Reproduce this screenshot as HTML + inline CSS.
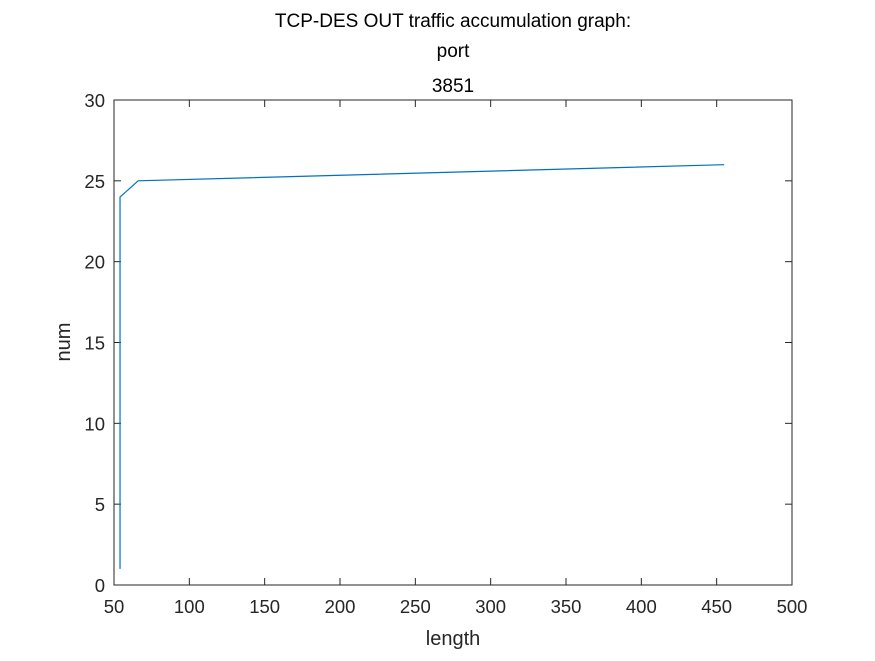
<!DOCTYPE html>
<html><head><meta charset="utf-8"><style>
body{margin:0;background:#fff;font-family:"Liberation Sans",sans-serif}
</style></head><body>
<svg width="875" height="656" xmlns="http://www.w3.org/2000/svg">
<rect width="875" height="656" fill="#fff"/>
<g id="axes"></g>
<g id="series"></g>
<text x="453" y="27" text-anchor="middle" font-size="19" fill="#000">TCP-DES OUT traffic accumulation graph:</text>
<text x="453" y="57" text-anchor="middle" font-size="19" fill="#000">port</text>
<text x="453" y="92" text-anchor="middle" font-size="19" fill="#000">3851</text>
<text x="453" y="645" text-anchor="middle" font-size="20" fill="#262626">length</text>
<text x="70" y="342" text-anchor="middle" font-size="20" fill="#262626" transform="rotate(-90 70 342)">num</text>
</svg>
<script>
const xTicks=[50,100,150,200,250,300,350,400,450,500];
const yTicks=[0,5,10,15,20,25,30];
const xVals=[54,54,66,455];
const yVals=[1,24,25,26];
const X0=114,X1=792,Y0=585,Y1=100;
const sx=v=>X0+(v-50)/450*(X1-X0);
const sy=v=>Y0-v/30*(Y0-Y1);
const NS="http://www.w3.org/2000/svg";
const ax=document.getElementById('axes');
function mk(t,a,p){const e=document.createElementNS(NS,t);for(const k in a)e.setAttribute(k,a[k]);p.appendChild(e);return e;}
const box=mk('rect',{x:X0,y:Y1,width:X1-X0,height:Y0-Y1,fill:'none',stroke:'#262626','stroke-width':1},ax);


xTicks.forEach(v=>{const x=sx(v);
mk('line',{x1:x,x2:x,y1:Y0,y2:Y0-7,stroke:'#262626'},ax);
mk('line',{x1:x,x2:x,y1:Y1,y2:Y1+7,stroke:'#262626'},ax);
const t=mk('text',{x:x,y:Y0+28,'text-anchor':'middle','font-size':18.5,fill:'#262626'},ax);t.textContent=v;

});
yTicks.forEach(v=>{const y=sy(v);
mk('line',{x1:X0,x2:X0+7,y1:y,y2:y,stroke:'#262626'},ax);
mk('line',{x1:X1,x2:X1-7,y1:y,y2:y,stroke:'#262626'},ax);
const t=mk('text',{x:X0-9,y:y+7,'text-anchor':'end','font-size':18.5,fill:'#262626'},ax);t.textContent=v;

});
const pl=mk('polyline',{points:xVals.map((v,i)=>sx(v)+','+sy(yVals[i])).join(' '),fill:'none',stroke:'#0072BD','stroke-width':1.2},document.getElementById('series'));


</script>
</body></html>
